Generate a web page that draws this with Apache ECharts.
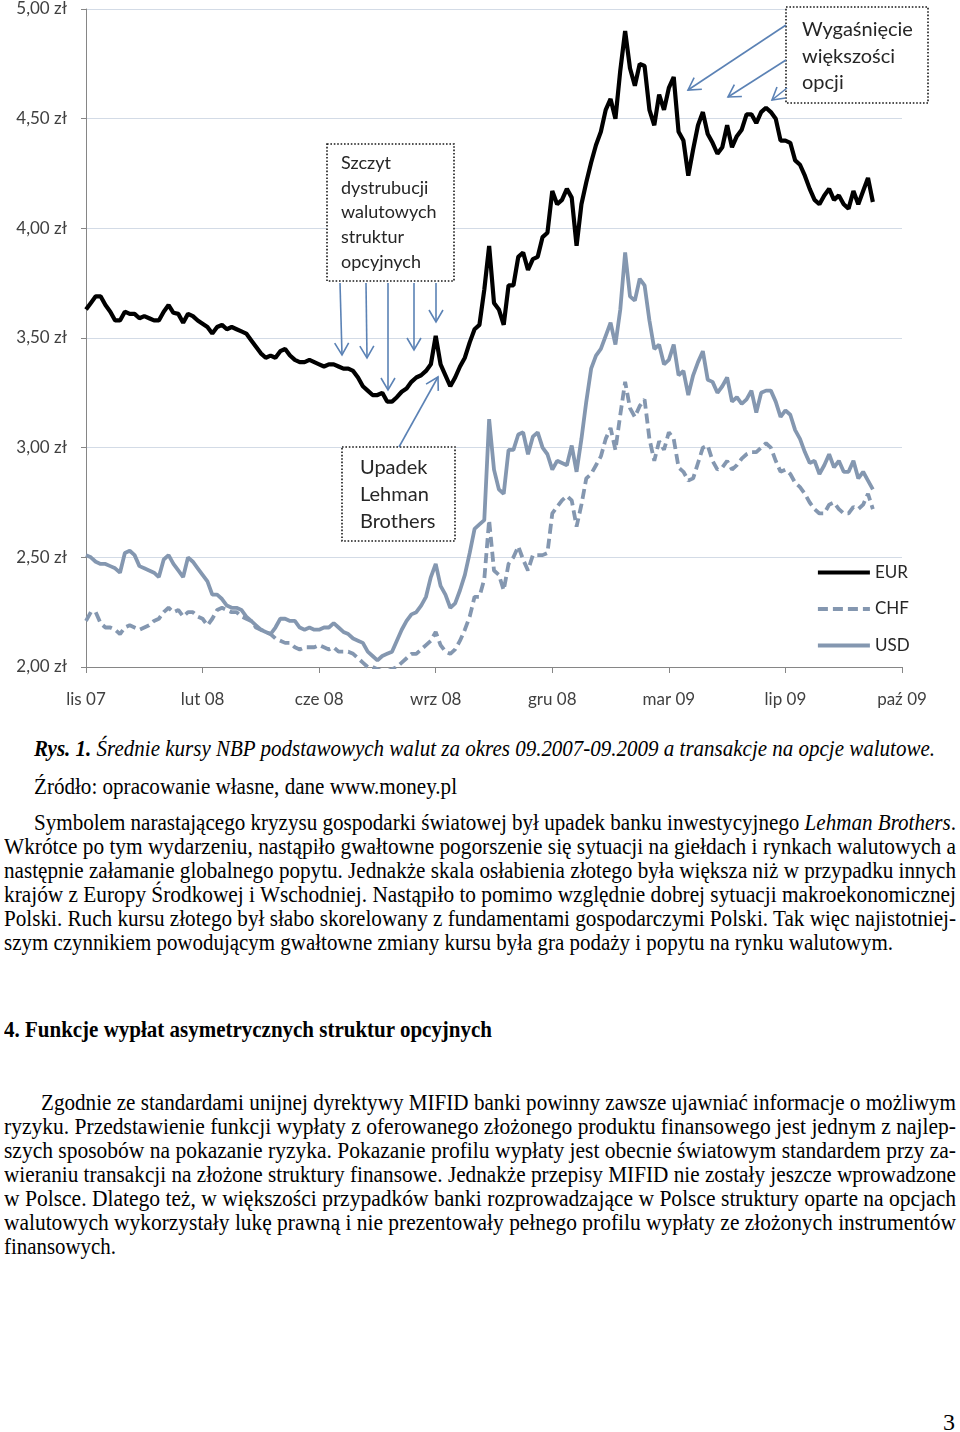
<!DOCTYPE html>
<html><head><meta charset="utf-8">
<script src="https://cdn.jsdelivr.net/npm/echarts@6/dist/echarts.min.js"></script>
<style>
html,body{margin:0;padding:0;background:#fff;width:960px;height:1432px;overflow:hidden;position:relative}
#chart{position:absolute;left:0;top:0;width:960px;height:720px}
.ln{position:absolute;white-space:nowrap;display:inline-block;font-family:"Liberation Serif","Times New Roman",serif;font-size:24px;line-height:24px;color:#000;transform-origin:0 50%}
</style></head><body>
<div id="chart"></div>
<div id="text"></div>
<script>
// ---- data (NBP average rates, PLN) ----
const xLabels = ['lis 07','lut 08','cze 08','wrz 08','gru 08','mar 09','lip 09','paź 09'];
const pointsPerTick = 24;
const EUR = [3.63,3.66,3.69,3.69,3.65,3.62,3.58,3.58,3.62,3.61,
3.61,3.59,3.60,3.59,3.58,3.58,3.62,3.65,3.615,3.61,
3.57,3.61,3.60,3.58,3.565,3.55,3.52,3.55,3.56,3.54,
3.55,3.54,3.53,3.52,3.49,3.46,3.43,3.41,3.42,3.41,
3.44,3.45,3.42,3.40,3.39,3.39,3.40,3.39,3.38,3.37,
3.38,3.38,3.37,3.36,3.36,3.35,3.32,3.28,3.26,3.24,
3.24,3.25,3.21,3.21,3.23,3.255,3.27,3.30,3.32,3.33,
3.35,3.38,3.51,3.38,3.33,3.28,3.32,3.37,3.41,3.48,
3.54,3.56,3.72,3.92,3.66,3.63,3.56,3.74,3.74,3.87,
3.89,3.81,3.86,3.87,3.96,3.98,4.17,4.11,4.13,4.18,
4.14,3.92,4.11,4.21,4.30,4.38,4.44,4.54,4.59,4.50,
4.72,4.90,4.73,4.65,4.75,4.74,4.54,4.47,4.61,4.54,
4.64,4.69,4.44,4.40,4.24,4.36,4.47,4.53,4.43,4.39,
4.34,4.37,4.47,4.37,4.42,4.45,4.52,4.52,4.48,4.53,
4.55,4.53,4.50,4.40,4.40,4.39,4.31,4.29,4.24,4.18,
4.13,4.11,4.15,4.18,4.13,4.15,4.11,4.09,4.17,4.11,
4.17,4.23,4.12];
const CHF = [2.21,2.25,2.25,2.20,2.18,2.18,2.17,2.15,2.18,2.19,
2.18,2.17,2.18,2.19,2.21,2.22,2.25,2.27,2.25,2.26,
2.23,2.25,2.25,2.23,2.22,2.19,2.22,2.26,2.27,2.26,
2.25,2.25,2.23,2.22,2.21,2.18,2.17,2.16,2.15,2.13,
2.12,2.11,2.11,2.09,2.08,2.09,2.09,2.09,2.10,2.09,
2.08,2.09,2.07,2.07,2.07,2.06,2.04,2.02,2.00,2.00,
1.99,1.98,1.98,1.99,2.00,2.02,2.04,2.06,2.06,2.08,
2.10,2.12,2.16,2.10,2.07,2.06,2.08,2.12,2.17,2.23,
2.32,2.32,2.40,2.67,2.44,2.42,2.35,2.47,2.50,2.55,
2.49,2.44,2.51,2.51,2.51,2.52,2.70,2.73,2.76,2.78,
2.76,2.64,2.74,2.86,2.88,2.92,2.96,3.04,3.09,2.99,
3.15,3.30,3.18,3.14,3.19,3.22,3.04,2.94,3.03,2.99,
3.07,3.04,2.91,2.89,2.85,2.86,2.93,3.00,3.01,2.94,
2.90,2.91,2.94,2.90,2.92,2.95,2.97,2.98,2.98,3.00,
3.02,3.00,2.94,2.89,2.90,2.88,2.84,2.82,2.79,2.75,
2.72,2.70,2.70,2.74,2.75,2.72,2.70,2.70,2.73,2.72,
2.74,2.79,2.72];
const USD = [2.51,2.50,2.48,2.47,2.47,2.46,2.45,2.43,2.52,2.53,
2.51,2.46,2.45,2.44,2.43,2.41,2.49,2.51,2.47,2.44,
2.41,2.50,2.48,2.45,2.42,2.39,2.33,2.33,2.31,2.28,
2.27,2.27,2.26,2.23,2.21,2.19,2.17,2.16,2.15,2.18,
2.22,2.22,2.21,2.21,2.18,2.17,2.18,2.17,2.17,2.18,
2.18,2.20,2.18,2.16,2.15,2.13,2.12,2.11,2.07,2.05,
2.03,2.05,2.06,2.07,2.12,2.17,2.21,2.24,2.25,2.28,
2.32,2.41,2.47,2.37,2.33,2.27,2.29,2.35,2.42,2.52,
2.63,2.65,2.67,3.13,2.90,2.81,2.79,2.99,2.99,3.06,
3.07,2.97,3.05,3.07,3.00,2.97,2.90,2.94,2.93,2.92,
3.01,2.89,3.04,3.21,3.36,3.42,3.45,3.51,3.57,3.47,
3.63,3.89,3.69,3.67,3.77,3.74,3.58,3.45,3.47,3.38,
3.40,3.47,3.33,3.35,3.24,3.33,3.39,3.44,3.31,3.30,
3.25,3.28,3.32,3.21,3.23,3.20,3.22,3.26,3.16,3.25,
3.26,3.26,3.21,3.14,3.17,3.15,3.08,3.04,2.98,2.93,
2.94,2.88,2.92,2.97,2.91,2.94,2.89,2.89,2.94,2.86,
2.89,2.85,2.81];
const seriesNames = ['EUR','CHF','USD'];

// ---- chart ----
const chart = echarts.init(document.getElementById('chart'));
const toPairs = arr => arr.map((v,i)=>[i,v]);
const FONT = 'Lato';
const ARROW = '#5b82b5';
const SER = '#8497b0';

function arrow(x1,y1,x2,y2){
  const dx=x2-x1, dy=y2-y1, L=Math.hypot(dx,dy), ux=dx/L, uy=dy/L, hl=12, hw=7;
  const bx=x2-ux*hl, by=y2-uy*hl;
  return [
    {type:'line', shape:{x1,y1,x2,y2}, style:{stroke:ARROW, lineWidth:1.6}, z:10},
    {type:'polyline', shape:{points:[[bx-uy*hw,by+ux*hw],[x2,y2],[bx+uy*hw,by-ux*hw]]}, style:{stroke:ARROW, lineWidth:1.6, fill:null}, z:10}
  ];
}
function box(x,y,w,h){
  return {type:'rect', shape:{x,y,width:w,height:h}, style:{fill:'#fff', stroke:'#1a1a1a', lineWidth:1.6, lineDash:[1.6,1.8]}, z:9};
}
function txt(lines,x,y0,dy,size){
  return lines.map((t,k)=>({type:'text', x:x, y:y0+k*dy, style:{text:t, font:size+'px '+FONT, fill:'#262626', verticalAlign:'middle', align:'left'}, z:11}));
}
const graphics = [].concat(
  [box(327,144,127,137)],
  txt(['Szczyt','dystrubucji','walutowych','struktur','opcyjnych'],341,163,24.8,18),
  arrow(340,283,342,355), arrow(366,283,367,358), arrow(388,283,388,390), arrow(414,283,414,350), arrow(436,283,436,322),
  [box(342,447,113,94)],
  txt(['Upadek','Lehman','Brothers'],360,468,27,20),
  arrow(399,447,438,377),
  [box(786,7,142,96)],
  txt(['Wygaśnięcie','większości','opcji'],802,30,26.5,20),
  arrow(786,25,688,90), arrow(786,60,728,97), arrow(787,88,772,100)
);

chart.setOption({
  animation:false,
  backgroundColor:'#fff',
  grid:{left:86, right:58, top:9, bottom:53},
  legend:{orient:'vertical', left:811, top:559, itemWidth:52, itemHeight:14, itemGap:19.5,
    data:seriesNames, itemStyle:{opacity:0}, lineStyle:{width:3.8},
    textStyle:{fontFamily:FONT, fontSize:17, color:'#262626'}},
  xAxis:{type:'value', min:0, max:pointsPerTick*(xLabels.length-1), interval:pointsPerTick,
    axisLine:{show:true, lineStyle:{color:'#868686', width:1}},
    axisTick:{show:true, length:6, lineStyle:{color:'#868686'}},
    splitLine:{show:false},
    axisLabel:{formatter:v=>xLabels[Math.round(v/pointsPerTick)], margin:24, fontFamily:FONT, fontSize:17, color:'#404040'}},
  yAxis:{type:'value', min:2, max:5, interval:0.5,
    axisLine:{show:true, lineStyle:{color:'#868686', width:1}},
    axisTick:{show:true, length:5, lineStyle:{color:'#868686'}},
    splitLine:{show:true, lineStyle:{color:'#d3dbe6', width:1}},
    axisLabel:{formatter:v=>v.toFixed(2).replace('.',',')+' zł', margin:19, fontFamily:FONT, fontSize:17, color:'#404040'}},
  series:[
    {name:'EUR', type:'line', symbol:'none', data:toPairs(EUR), lineStyle:{color:'#000', width:4.2}, itemStyle:{color:'#000'}, z:5},
    {name:'CHF', type:'line', symbol:'none', data:toPairs(CHF), lineStyle:{color:SER, width:3.8, type:[10,5]}, itemStyle:{color:SER}, z:3},
    {name:'USD', type:'line', symbol:'none', data:toPairs(USD), lineStyle:{color:SER, width:3.8}, itemStyle:{color:SER}, z:4}
  ],
  graphic:graphics
});

// ---- text below the chart ----
const textLines = [
  [34,935,748,'<b><i>Rys. 1.</i></b><i> Średnie kursy NBP podstawowych walut za okres 09.2007-09.2009 a transakcje na opcje walutowe.</i>'],
  [34,457,786,'Źródło: opracowanie własne, dane www.money.pl'],
  [34,956,822,'Symbolem narastającego kryzysu gospodarki światowej był upadek banku inwestycyjnego <i>Lehman Brothers</i>.'],
  [4,956,846,'Wkrótce po tym wydarzeniu, nastąpiło gwałtowne pogorszenie się sytuacji na giełdach i rynkach walutowych a'],
  [4,956,870,'następnie załamanie globalnego popytu. Jednakże skala osłabienia złotego była większa niż w przypadku innych'],
  [4,956,894,'krajów z Europy Środkowej i Wschodniej. Nastąpiło to pomimo względnie dobrej sytuacji makroekonomicznej'],
  [4,956,918,'Polski. Ruch kursu złotego był słabo skorelowany z fundamentami gospodarczymi Polski. Tak więc najistotniej-'],
  [4,893,942,'szym czynnikiem powodującym gwałtowne zmiany kursu była gra podaży i popytu na rynku walutowym.'],
  [4,492,1029,'<b>4. Funkcje wypłat asymetrycznych struktur opcyjnych</b>'],
  [41,956,1102,'Zgodnie ze standardami unijnej dyrektywy MIFID banki powinny zawsze ujawniać informacje o możliwym'],
  [4,956,1126,'ryzyku. Przedstawienie funkcji wypłaty z oferowanego złożonego produktu finansowego jest jednym z najlep-'],
  [4,956,1150,'szych sposobów na pokazanie ryzyka. Pokazanie profilu wypłaty jest obecnie światowym standardem przy za-'],
  [4,956,1174,'wieraniu transakcji na złożone struktury finansowe. Jednakże przepisy MIFID nie zostały jeszcze wprowadzone'],
  [4,956,1198,'w Polsce. Dlatego też, w większości przypadków banki rozprowadzające w Polsce struktury oparte na opcjach'],
  [4,956,1222,'walutowych wykorzystały lukę prawną i nie prezentowały pełnego profilu wypłaty ze złożonych instrumentów'],
  [4,116,1246,'finansowych.'],
  [943,955,1422,'3']
];
const holder = document.getElementById('text');
textLines.forEach(([l,r,y,html])=>{
  const s = document.createElement('span');
  s.className='ln';
  s.innerHTML = html;
  s.style.left = l+'px';
  s.style.top = (y-12)+'px';
  holder.appendChild(s);
  const w = s.getBoundingClientRect().width;
  if (w>0) s.style.transform = 'scaleX('+((r-l)/w)+')';
});
</script>
</body></html>
